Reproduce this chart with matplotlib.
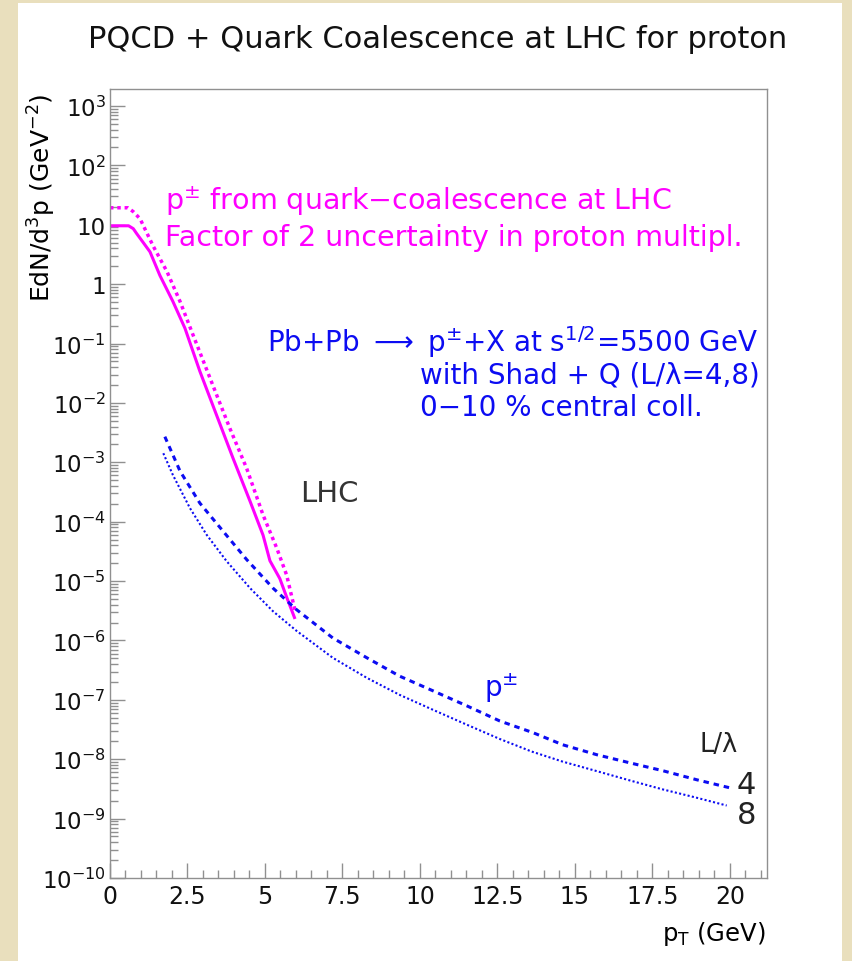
import numpy as np
import matplotlib
matplotlib.use("Agg")
import matplotlib.pyplot as plt
from matplotlib.patches import Rectangle
from matplotlib.ticker import LogLocator, MultipleLocator, FuncFormatter, NullFormatter

# magenta: quark coalescence (solid) and factor-2 band edge (dotted)
pt_coal = [0.0, 0.6, 0.75, 0.86, 1.05, 1.29, 1.61, 2.03, 2.42, 2.9, 3.44, 3.97,
           4.52, 4.94, 5.16, 5.48, 5.71, 5.97]
y_coal = [9.6, 9.6, 8.6, 7.1, 5.2, 3.5, 1.4, 0.51, 0.18, 0.034, 6.2e-3, 1.17e-3,
          2.2e-4, 5.9e-5, 2.2e-5, 1.1e-5, 5.2e-6, 2.3e-6]

pt_coal2 = [0.0, 0.58, 0.75, 0.97, 1.39, 1.84, 2.26, 2.66, 3.32, 3.87, 4.41, 4.94,
            5.38, 5.70, 5.97]
y_coal2 = [19.3, 19.3, 16.6, 12.6, 4.4, 1.62, 0.51, 0.148, 0.0197, 3.7e-3, 7.9e-4,
           1.29e-4, 3.6e-5, 1.26e-5, 3.2e-6]

# blue: pQCD with shadowing + quenching, L/lambda = 4 (dashed) and 8 (dotted)
pt_q4 = [1.77, 2.26, 2.90, 3.65, 4.41, 5.26, 6.02, 7.19, 8.29, 9.35, 10.42, 11.52,
         12.58, 13.65, 14.61, 15.71, 16.77, 17.84, 18.94, 20.0]
y_q4 = [2.7e-3, 7.1e-4, 2.05e-4, 6.9e-5, 2.3e-5, 7.6e-6, 3.3e-6, 1.1e-6, 5.1e-7,
        2.5e-7, 1.42e-7, 7.9e-8, 4.4e-8, 2.8e-8, 1.75e-8, 1.19e-8, 8.7e-9, 6.4e-9,
        4.5e-9, 3.3e-9]

pt_q8 = [1.72, 2.03, 2.58, 3.12, 3.76, 4.52, 5.26, 6.02, 7.19, 8.29, 9.35, 10.42,
         11.52, 12.58, 13.6, 14.61, 15.71, 16.77, 17.84, 18.94, 19.9]
y_q8 = [1.42e-3, 6.1e-4, 1.69e-4, 6.0e-5, 2.17e-5, 7.6e-6, 3.1e-6, 1.45e-6, 5.1e-7,
        2.34e-7, 1.21e-7, 6.8e-8, 3.8e-8, 2.19e-8, 1.35e-8, 9.1e-9, 6.3e-9, 4.4e-9,
        3.1e-9, 2.24e-9, 1.66e-9]

MAGENTA = '#ff00ff'
BLUE = '#0c0cf2'
AXCOL = '#909090'

plt.rcParams['font.family'] = ['DejaVu Sans']
plt.rcParams['mathtext.fontset'] = 'dejavusans'

fig = plt.figure(figsize=(8.52, 9.62), dpi=100)
fig.patch.set_facecolor('#e9dfbd')
# white panel inside the beige frame
fig.patches.append(Rectangle((18 / 852, 0), (842 - 18) / 852, (962 - 4) / 962,
                             transform=fig.transFigure, facecolor='white',
                             edgecolor='none', zorder=-10))

ax = fig.add_axes([110 / 852, (962 - 879) / 962, 657 / 852, 789 / 962])
ax.set_facecolor('white')

ax.plot(pt_coal, y_coal, color=MAGENTA, lw=2.2, solid_capstyle='butt')
ax.plot(pt_coal2, y_coal2, color=MAGENTA, lw=2.5, linestyle=(0, (1.0, 1.1)))
ax.plot(pt_q4, y_q4, color=BLUE, lw=2.2, linestyle=(0, (1.8, 1.6)))
ax.plot(pt_q8, y_q8, color=BLUE, lw=1.5, linestyle=(0, (1.0, 1.1)))

ax.set_yscale('log')
ax.set_xlim(0, 21.2)
ax.set_ylim(1e-10, 1.93e3)

ax.xaxis.set_major_locator(MultipleLocator(2.5))
ax.xaxis.set_minor_locator(MultipleLocator(0.5))
ax.xaxis.set_major_formatter(FuncFormatter(lambda v, p: '%g' % v))
ax.yaxis.set_major_locator(LogLocator(base=10, numticks=30))
ax.yaxis.set_minor_locator(LogLocator(base=10, subs=np.arange(2, 10), numticks=300))
ax.yaxis.set_minor_formatter(NullFormatter())


def ylab(v, pos):
    e = int(round(np.log10(v)))
    if e == 0:
        return '1'
    if e == 1:
        return '10'
    return r'$\mathregular{10^{%d}}$' % e


ax.yaxis.set_major_formatter(FuncFormatter(ylab))

ax.tick_params(which='both', direction='in', color=AXCOL, top=False, right=False,
               labelcolor='#111111')
ax.tick_params(which='major', length=11, width=1)
ax.tick_params(which='minor', length=5.5, width=1)
ax.tick_params(axis='x', pad=4, labelsize=17)
ax.tick_params(axis='y', pad=3, labelsize=16.5)
for s in ax.spines.values():
    s.set_color(AXCOL)
    s.set_linewidth(1)

ax.set_ylabel(r'EdN/d$^3$p (GeV$^{-2}$)', fontsize=18, loc='top')
ax.yaxis.set_label_coords(-0.079, 0.996)
ax.set_xlabel(r'p$_{\mathregular{T}}$ (GeV)', fontsize=17.5, loc='right')
ax.xaxis.set_label_coords(0.998, -0.052)

fig.text(438 / 852, 1 - 39 / 962, 'PQCD + Quark Coalescence at LHC for proton',
         ha='center', va='center', fontsize=22, color='#111111')


def axpos(px, py):
    return ((px - 110) / 657, (879 - py) / 789)


ax.text(*axpos(165, 201), 'p$^{\\pm}$ from quark\u2212coalescence at LHC',
        transform=ax.transAxes, color=MAGENTA, fontsize=20.5, va='center', ha='left')
ax.text(*axpos(165, 238), 'Factor of 2 uncertainty in proton multipl.',
        transform=ax.transAxes, color=MAGENTA, fontsize=20.5, va='center', ha='left')
ax.text(*axpos(267, 342),
        'Pb+Pb $\\longrightarrow$ p$^{\\pm}$+X at s$^{1/2}$=5500 GeV',
        transform=ax.transAxes, color=BLUE, fontsize=20, va='center', ha='left')
ax.text(*axpos(420, 376), 'with Shad + Q (L/\u03bb=4,8)',
        transform=ax.transAxes, color=BLUE, fontsize=20, va='center', ha='left')
ax.text(*axpos(420, 408), '0\u221210 % central coll.',
        transform=ax.transAxes, color=BLUE, fontsize=20, va='center', ha='left')
ax.text(*axpos(300, 494), 'LHC', transform=ax.transAxes, color='#333333',
        fontsize=21, va='center', ha='left')
ax.text(*axpos(484, 688), 'p$^{\\pm}$', transform=ax.transAxes, color=BLUE,
        fontsize=20, va='center', ha='left')
ax.text(*axpos(700, 745), 'L/\u03bb', transform=ax.transAxes, color='#222222',
        fontsize=18.5, va='center', ha='left')
ax.text(*axpos(737, 786), '4', transform=ax.transAxes, color='#222222',
        fontsize=22, va='center', ha='left')
ax.text(*axpos(737, 816), '8', transform=ax.transAxes, color='#222222',
        fontsize=22, va='center', ha='left')

fig.savefig('out.png', dpi=100, facecolor=fig.get_facecolor())
